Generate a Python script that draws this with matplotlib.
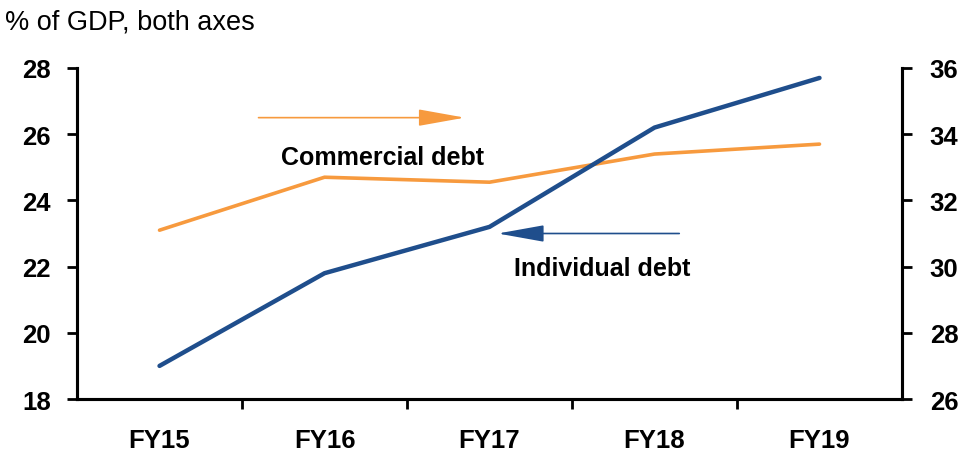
import matplotlib
matplotlib.use("Agg")
import matplotlib.pyplot as plt
from matplotlib import font_manager

# 数据：占GDP百分比
years = ["FY15", "FY16", "FY17", "FY18", "FY19"]
individual_debt = [19.0, 21.8, 23.2, 26.2, 27.7]   # 左轴
commercial_debt = [31.1, 32.7, 32.55, 33.4, 33.7]  # 右轴

left_ticks = [18, 20, 22, 24, 26, 28]
right_ticks = [26, 28, 30, 32, 34, 36]

BLUE = "#1f4e8c"
ORANGE = "#f79a3e"

names = {f.name for f in font_manager.fontManager.ttflist}
narrow = "Liberation Sans Narrow" if "Liberation Sans Narrow" in names else "Liberation Sans"
plt.rcParams["font.family"] = ["Liberation Sans", "DejaVu Sans"]

fig = plt.figure(figsize=(9.8, 4.56), dpi=100)
ax = fig.add_axes([0.0786, 0.1228, 0.8418, 0.7259])
ax2 = ax.twinx()

x = list(range(len(years)))
ax.plot(x, individual_debt, color=BLUE, lw=3.2, solid_capstyle="round", zorder=3)
ax2.plot(x, commercial_debt, color=ORANGE, lw=2.6, solid_capstyle="round", zorder=2)
ax.set_zorder(ax2.get_zorder() + 1)
ax.patch.set_visible(False)

ax.set_xlim(-0.5, 4.5)
ax.set_ylim(18, 28)
ax2.set_ylim(26, 36)
ax.set_yticks(left_ticks)
ax2.set_yticks(right_ticks)

ax.set_xticks(x)
ax.set_xticklabels(years)
ax.set_xticks([0.5, 1.5, 2.5, 3.5], minor=True)
ax.tick_params(axis="x", which="major", length=0, pad=21)
ax.tick_params(axis="x", which="minor", length=7, width=2, direction="out")
ax.tick_params(axis="y", length=7, width=2, direction="out", pad=12)
ax2.tick_params(axis="y", length=7, width=2, direction="out", pad=13)

for lab in ax.get_xticklabels() + ax.get_yticklabels() + ax2.get_yticklabels():
    lab.set_fontfamily([narrow, "DejaVu Sans"])
    lab.set_fontweight("bold")
    lab.set_fontsize(18.5)

for a in (ax, ax2):
    a.spines["top"].set_visible(False)
    for s in ("left", "right", "bottom"):
        a.spines[s].set_linewidth(2.2)

# 箭头与标注
head = "-|>,head_length=1.45,head_width=0.26"
ax.annotate("", xy=(1.85, 26.5), xytext=(0.6, 26.5),
            arrowprops=dict(arrowstyle=head, mutation_scale=20,
                            color=ORANGE, lw=1.2, shrinkA=0, shrinkB=0))
ax.text(1.35, 25.3, "Commercial debt", ha="center", va="center",
        fontsize=18, fontweight="bold")
ax.annotate("", xy=(2.05, 23.0), xytext=(3.15, 23.0),
            arrowprops=dict(arrowstyle=head, mutation_scale=20,
                            color=BLUE, lw=1.2, shrinkA=0, shrinkB=0))
ax.text(2.68, 21.95, "Individual debt", ha="center", va="center",
        fontsize=18, fontweight="bold")

fig.text(0.005, 0.95, "% of GDP, both axes", fontsize=19.5, ha="left", va="center")

fig.savefig("out.png", dpi=100)
